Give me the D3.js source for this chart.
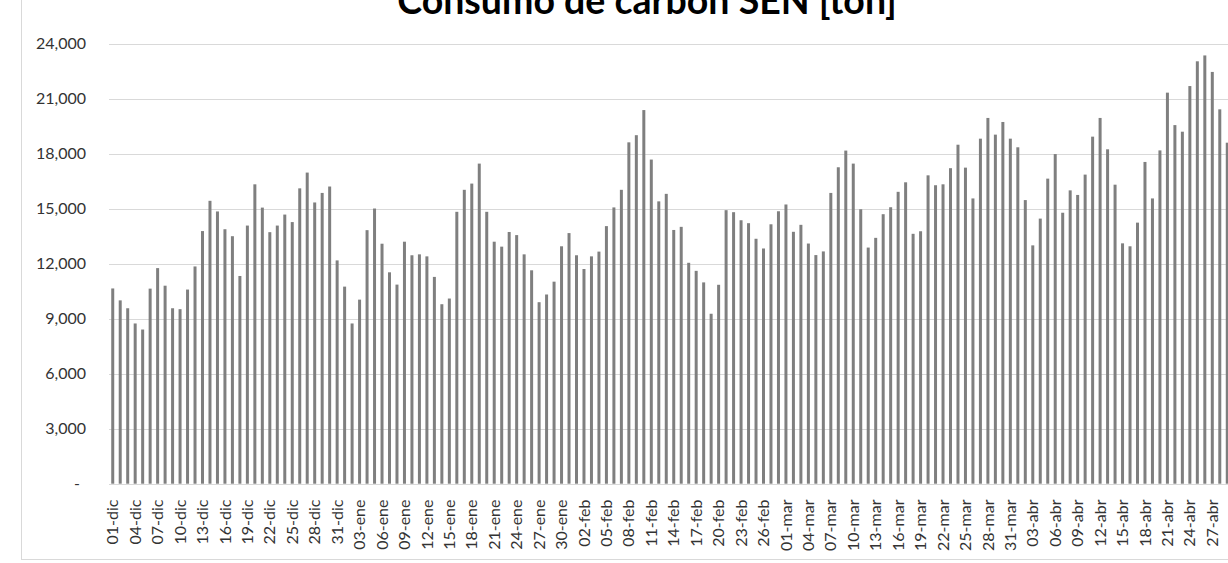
<!DOCTYPE html>
<html>
<head>
<meta charset="utf-8">
<script src="https://cdn.jsdelivr.net/npm/d3@7"></script>
<style>
  body { margin: 0; background: #fff; }
  svg { display: block; font-family: Lato, "Open Sans", sans-serif; }
</style>
</head>
<body>
<script>
// consumo diario de carbón (ton)
const meses = ["dic", "ene", "feb", "mar", "abr"];
const diasPorMes = [31, 31, 28, 31, 29];

const consumoDic = [10650, 10000, 9570, 8740, 8410, 10640, 11760, 10800, 9570, 9520,
  10590, 11850, 13780, 15430, 14850, 13880, 13500, 11330, 14080, 16330,
  15060, 13720, 14080, 14680, 14270, 16110, 16970, 15340, 15860, 16210, 12180];
const consumoEne = [10750, 8740, 10040, 13830, 15010, 13090, 11530, 10860, 13200, 12460,
  12510, 12400, 11280, 9790, 10100, 14830, 16030, 16370, 17460, 14830,
  13200, 12930, 13730, 13560, 12510, 11640, 9900, 10320, 11020, 12950, 13670];
const consumoFeb = [12460, 11710, 12400, 12660, 14050, 15070, 16030, 18620, 19010, 20380,
  17680, 15400, 15810, 13840, 14010, 12050, 11610, 10980, 9270, 10850,
  14920, 14810, 14370, 14210, 13360, 12830, 14150, 14860];
const consumoMar = [15230, 13740, 14120, 13100, 12470, 12670, 15860, 17260, 18170, 17460,
  14970, 12880, 13410, 14700, 15080, 15920, 16440, 13630, 13770, 16820,
  16280, 16330, 17210, 18490, 17240, 15560, 18820, 19950, 19040, 19730, 18820];
const consumoAbr = [18350, 15470, 13000, 14460, 16640, 17980, 14780, 16000, 15750, 16860,
  18930, 19950, 18240, 16310, 13110, 12950, 14240, 17550, 15560, 18180,
  21330, 19560, 19200, 21690, 23040, 23360, 22460, 20420, 18600];

const yTicks = [0, 3000, 6000, 9000, 12000, 15000, 18000, 21000, 24000];
const titulo = "Consumo de carbón SEN [ton]";

// etiquetas dd-mes
const fechas = [];
meses.forEach((m, i) => {
  for (let d = 1; d <= diasPorMes[i]; d++) {
    fechas.push(String(d).padStart(2, "0") + "-" + m);
  }
});
const valores = [].concat(consumoDic, consumoEne, consumoFeb, consumoMar, consumoAbr);
const data = fechas.map((f, i) => ({ fecha: f, valor: valores[i] }));

const width = 1228, height = 563;
const x0 = 109, step = 7.48;
const textColor = "#333";

const svg = d3.select("body").append("svg")
  .attr("width", width)
  .attr("height", height);

// borde del área del gráfico (recortado arriba y a la derecha)
svg.append("rect")
  .attr("x", 21.5).attr("y", -20)
  .attr("width", 1300).attr("height", 579.5)
  .attr("fill", "#fff")
  .attr("stroke", "#d9d9d9");

const x = d3.scaleBand()
  .domain(fechas)
  .range([x0, x0 + step * fechas.length])
  .paddingInner(0.6)
  .paddingOuter(0.3);

const y = d3.scaleLinear()
  .domain([0, 24000])
  .range([483.7, 43.7]);

// grilla
svg.append("g")
  .selectAll("line")
  .data(yTicks)
  .join("line")
  .attr("x1", x0)
  .attr("x2", width + 10)
  .attr("y1", d => Math.round(y(d)) + 0.5)
  .attr("y2", d => Math.round(y(d)) + 0.5)
  .attr("stroke", "#d9d9d9")
  .attr("stroke-width", 1);

// eje y
const yAxis = svg.append("g")
  .attr("transform", "translate(86,0)")
  .call(d3.axisLeft(y).tickValues(yTicks).tickSize(0).tickPadding(0)
    .tickFormat(d => d === 0 ? "-" : d3.format(",")(d)));
yAxis.select(".domain").remove();
yAxis.selectAll("text")
  .attr("font-family", "Lato, sans-serif")
  .attr("font-size", 16)
  .attr("fill", textColor)
  .attr("dx", d => d === 0 ? -6 : 0);

// barras
svg.append("g")
  .selectAll("rect")
  .data(data)
  .join("rect")
  .attr("x", d => x(d.fecha))
  .attr("y", d => y(d.valor))
  .attr("width", x.bandwidth())
  .attr("height", d => y(0) - y(d.valor))
  .attr("fill", "#7f7f7f");

// eje x
const xAxis = svg.append("g")
  .attr("transform", `translate(0,${Math.round(y(0)) + 0.5})`)
  .call(d3.axisBottom(x)
    .tickValues(fechas.filter((f, i) => i % 3 === 0))
    .tickSize(0));
xAxis.select(".domain")
  .attr("d", `M${x0},0H${width + 10}`)
  .attr("stroke", "#d9d9d9");
xAxis.selectAll("text")
  .attr("font-family", "Lato, sans-serif")
  .attr("font-size", 16)
  .attr("fill", textColor)
  .attr("text-anchor", "end")
  .attr("transform", "rotate(-90)")
  .attr("x", -15)
  .attr("y", 0)
  .attr("dy", "0.35em");

// título
svg.append("text")
  .attr("x", 647)
  .attr("y", 14)
  .attr("text-anchor", "middle")
  .attr("font-family", "Lato, sans-serif")
  .attr("font-weight", "bold")
  .attr("font-size", 37.5)
  .attr("fill", "#000")
  .text(titulo);
</script>
</body>
</html>
